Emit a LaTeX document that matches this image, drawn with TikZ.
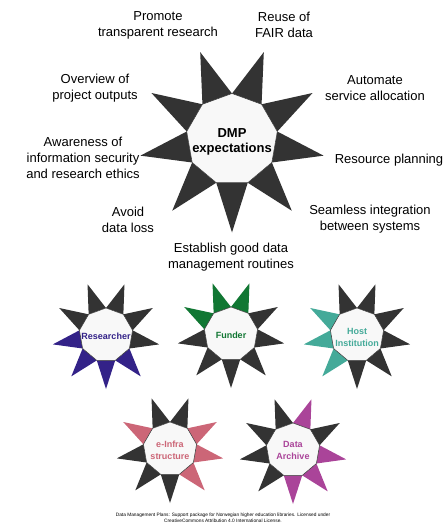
\documentclass[tikz,border=0pt]{standalone}
\usepackage{fontspec}
\setmainfont{Liberation Sans}
\usepackage{tikz}
\usetikzlibrary{shapes.geometric}

\definecolor{spike}{HTML}{333333}
\definecolor{hubgray}{HTML}{F8F8F8}
\definecolor{indigo}{HTML}{332288}
\definecolor{tolgreen}{HTML}{117733}
\definecolor{tolteal}{HTML}{44AA99}
\definecolor{tolrose}{HTML}{CC6677}
\definecolor{tolpurple}{HTML}{AA4499}

\tikzset{
  hub/.style={fill=hubgray, draw=spike, line width=0.5pt},
  goal/.style={align=center, font=\fontsize{13}{16}\selectfont},
  role/.style={align=center, font=\bfseries\fontsize{9}{12}\selectfont},
}

\newcommand{\ninestar}[4]{%
  \begin{scope}[shift={#1}]
    \foreach \col [count=\i from 0] in {#4}
      \fill[fill=\col] (-110+40*\i:#2) -- (-90+40*\i:#3) -- (-70+40*\i:#2) -- cycle;
    \filldraw[hub] (90:#2) \foreach \a in {130,170,...,410} {-- (\a:#2)} -- cycle;
  \end{scope}}

\begin{document}
\begin{tikzpicture}[x=1pt, y=1pt]
            \useasboundingbox (0,0) rectangle (446,-525);

            \ninestar{(232,-139.5)}{46}{93}{spike,spike,spike,spike,spike,spike,spike,spike,spike}
            \node [align=center, font=\bfseries\fontsize{13}{15}\selectfont] (dmp) at (232,-141.5) {DMP\\expectations};

            \node [goal] (promote) at (158,-25) {Promote\\transparent research};
            \node [goal] (reuse) at (284,-25) {Reuse of\\FAIR data};
            \node [goal] (overview) at (95,-88.5) {Overview of\\project outputs};
            \node [goal] (automate) at (375,-88.5) {Automate\\service allocation};
            \node [goal] (awareness) at (83,-158) {Awareness of\\information security\\and research ethics};
            \node [goal] (resource) at (389,-160) {Resource planning};
            \node [goal] (avoid) at (128,-219.5) {Avoid\\data loss};
            \node [goal] (seamless) at (370,-219.5) {Seamless integration\\between systems};
            \node [goal] (establish) at (231,-257.5) {Establish good data\\management routines};

            \ninestar{(106,-335)}{27}{54}{indigo,indigo,spike,spike,spike,spike,spike,indigo,indigo}
            \node [role, text=indigo] (researcher) at (106,-336) {Researcher};

            \ninestar{(231,-334)}{27}{54}{spike,spike,spike,spike,tolgreen,tolgreen,tolgreen,spike,spike}
            \node [role, text=tolgreen] (funder) at (231,-335) {Funder};

            \ninestar{(357,-335)}{27}{54}{spike,spike,spike,spike,spike,spike,tolteal,tolteal,tolteal}
            \node [role, text=tolteal] (host) at (357,-337) {Host\\Institution};

            \ninestar{(170,-449)}{27}{54}{spike,tolrose,tolrose,tolrose,spike,spike,tolrose,spike,spike}
            \node [role, text=tolrose] (einfra) at (170,-450.5) {e-Infra\\structure};

            \ninestar{(293,-450)}{27}{54}{tolpurple,tolpurple,tolpurple,spike,tolpurple,spike,spike,spike,spike}
            \node [role, text=tolpurple] (archive) at (293,-450) {Data\\Archive};

            \node [align=center, font=\fontsize{4.8}{6}\selectfont] (credit) at (223,-518) {Data Management Plans: Support package for Norwegian higher education libraries. Licensed under\\CreativeCommons Attribution 4.0 International License.};
        \end{tikzpicture}
\end{document}
